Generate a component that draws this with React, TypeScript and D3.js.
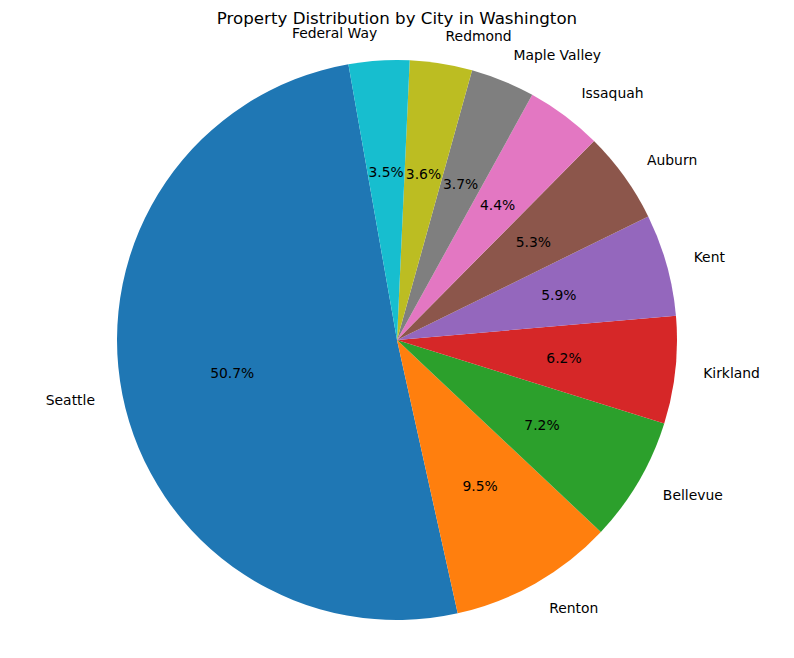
import React from "react";
import * as d3 from "d3";

const cities = ["Seattle", "Renton", "Bellevue", "Kirkland", "Kent", "Auburn", "Issaquah", "Maple Valley", "Redmond", "Federal Way"];
const shares = [50.7, 9.5, 7.2, 6.2, 5.9, 5.3, 4.4, 3.7, 3.6, 3.5];
const colors = ["#1f77b4", "#ff7f0e", "#2ca02c", "#d62728", "#9467bd", "#8c564b", "#e377c2", "#7f7f7f", "#bcbd22", "#17becf"];

const W = 794, H = 658;
const cx = 397, cy = 340, R = 280;
const startDeg = 100; // matplotlib startangle, counterclockwise

export default function App() {
  const a0 = ((90 - startDeg) * Math.PI) / 180;
  const pie = d3.pie<number>().sort(null).value((d) => d).startAngle(a0).endAngle(a0 - 2 * Math.PI);
  const arcs = pie(shares);
  const arcGen = d3.arc<d3.PieArcDatum<number>>().innerRadius(0).outerRadius(R);
  const font = "'DejaVu Sans', sans-serif";
  return (
    <svg width={W} height={H} style={{ position: "absolute", left: 0, top: 0, background: "#fff" }}>
      <text x={cx} y={24} textAnchor="middle" fontFamily={font} fontSize={16.67} fill="#000">
        Property Distribution by City in Washington
      </text>
      <g transform={`translate(${cx},${cy})`}>
        {arcs.map((a, i) => (
          <path key={i} d={arcGen(a) || ""} fill={colors[i]} />
        ))}
        {arcs.map((a, i) => {
          const m = (a.startAngle + a.endAngle) / 2;
          const sx = Math.sin(m), sy = -Math.cos(m);
          const lx = 1.1 * R * sx, ly = 1.1 * R * sy;
          const px = 0.6 * R * sx, py = 0.6 * R * sy;
          return (
            <g key={i}>
              <text x={lx} y={ly} dy="0.35em" textAnchor={sx > 0 ? "start" : "end"} fontFamily={font} fontSize={13.9} fill="#000">
                {cities[i]}
              </text>
              <text x={px} y={py} dy="0.35em" textAnchor="middle" fontFamily={font} fontSize={13.9} fill="#000">
                {shares[i].toFixed(1)}%
              </text>
            </g>
          );
        })}
      </g>
    </svg>
  );
}
